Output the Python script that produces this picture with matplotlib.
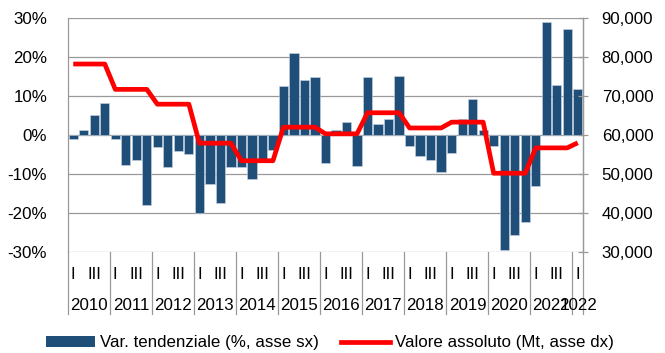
import numpy as np
import matplotlib
matplotlib.use("Agg")
import matplotlib.pyplot as plt
from matplotlib.patches import Patch
from matplotlib.lines import Line2D
from matplotlib.transforms import blended_transform_factory
from matplotlib.ticker import FuncFormatter

plt.rcParams['font.family'] = ['Liberation Sans', 'DejaVu Sans']

# Years shown on the category axis (2022 has only its first quarter)
years = [2010, 2011, 2012, 2013, 2014, 2015, 2016, 2017, 2018, 2019, 2020, 2021, 2022]
quarters_in_year = [4, 4, 4, 4, 4, 4, 4, 4, 4, 4, 4, 4, 1]
quarter_names = ["I", "", "III", ""]

# Year-on-year change, % (left axis), one value per quarter
var_tendenziale = [
    -1.0, 1.3, 5.1, 8.2,        # 2010
    -1.0, -7.7, -6.5, -17.9,    # 2011
    -3.0, -8.1, -4.1, -4.8,     # 2012
    -20.0, -12.5, -17.5, -8.2,  # 2013
    -8.2, -11.3, -6.4, -3.8,    # 2014
    12.5, 20.9, 14.2, 14.8,     # 2015
    -7.2, 1.4, 3.4, -7.9,       # 2016
    14.9, 2.7, 4.0, 15.1,       # 2017
    -2.7, -5.4, -6.5, -9.5,     # 2018
    -4.7, 4.1, 9.2, 1.3,        # 2019
    -2.7, -29.4, -25.7, -22.2,  # 2020
    -13.2, 29.0, 12.8, 27.1,    # 2021
    11.7,                       # 2022
]

# Absolute value, Mt (right axis), one value per year
valore_assoluto = [78200, 71700, 67900, 57900, 53400, 62000, 60300,
                   65700, 61800, 63300, 50200, 56700, 58000]

left_ticks = [-30, -20, -10, 0, 10, 20, 30]
right_ticks = [30000, 40000, 50000, 60000, 70000, 80000, 90000]

label_bars = "Var. tendenziale (%, asse sx)"
label_line = "Valore assoluto (Mt, asse dx)"

BAR = "#1f4e79"
RED = "#ff0000"
GRID = "#999999"
FS = 12.2

# quarter positions and the yearly value carried on each quarter
x = np.arange(len(var_tendenziale))
line_vals = []
for v, n in zip(valore_assoluto, quarters_in_year):
    line_vals.extend([v] * n)

fig = plt.figure(figsize=(6.65, 3.53), dpi=100)
ax = fig.add_axes([68 / 665, 1 - 252 / 353, (583 - 68) / 665, (252 - 18) / 353])

ax.bar(x, var_tendenziale, width=0.88, color=BAR, edgecolor="#c9d6e3", linewidth=0.4, zorder=2)
ax.set_xlim(-0.5, len(x) - 0.5)
ax.set_ylim(left_ticks[0], left_ticks[-1])
ax.set_yticks(left_ticks)
ax.set_yticklabels([f"{t}%" for t in left_ticks])
ax.yaxis.grid(True, color=GRID, linewidth=0.9)
ax.set_axisbelow(True)
ax.tick_params(axis="y", length=0, pad=15, labelsize=FS)
ax.tick_params(axis="x", length=0, labelbottom=False)
ax.set_xticks([])
for s in ["top", "bottom"]:
    ax.spines[s].set_visible(False)
for s in ["left", "right"]:
    ax.spines[s].set_color(GRID)
    ax.spines[s].set_linewidth(0.9)

ax2 = ax.twinx()
ax2.plot(x, line_vals, color=RED, linewidth=3.4, solid_joinstyle="round",
         solid_capstyle="butt", zorder=3)
ax2.set_ylim(right_ticks[0], right_ticks[-1])
ax2.set_yticks(right_ticks)
ax2.yaxis.set_major_formatter(FuncFormatter(lambda v, p: f"{int(v):,}"))
ax2.tick_params(axis="y", direction="inout", length=7, width=0.9, color=GRID,
                pad=10, labelsize=FS)
for s in ["top", "bottom", "left"]:
    ax2.spines[s].set_visible(False)
ax2.spines["right"].set_color(GRID)
ax2.spines["right"].set_linewidth(0.9)

# two-level category axis: quarters and years, with year separators
trans = blended_transform_factory(ax.transData, ax.transAxes)
start = 0
bounds = [-0.5]
for yr, n in zip(years, quarters_in_year):
    for q in range(n):
        name = quarter_names[q]
        if name:
            ax.text(start + q, -0.095, name, transform=trans, ha="center",
                    va="center", fontsize=FS)
    ax.text(start + (n - 1) / 2, -0.228, str(yr), transform=trans,
            ha="center", va="center", fontsize=FS)
    start += n
    bounds.append(start - 0.5)
for b in bounds:
    ax.plot([b, b], [0, -0.265], transform=trans, color=GRID, linewidth=0.9,
            clip_on=False)

handles = [Patch(facecolor=BAR, edgecolor="none"),
           Line2D([0], [0], color=RED, linewidth=3.4)]
fig.legend(handles, [label_bars, label_line], loc="center left",
           bbox_to_anchor=(46 / 665, 1 - 343 / 353), ncol=2, frameon=False,
           fontsize=FS, handlelength=2.9, handleheight=0.6, handletextpad=0.3,
           columnspacing=1.3, borderpad=0, borderaxespad=0)

fig.savefig("out.png", dpi=100)
